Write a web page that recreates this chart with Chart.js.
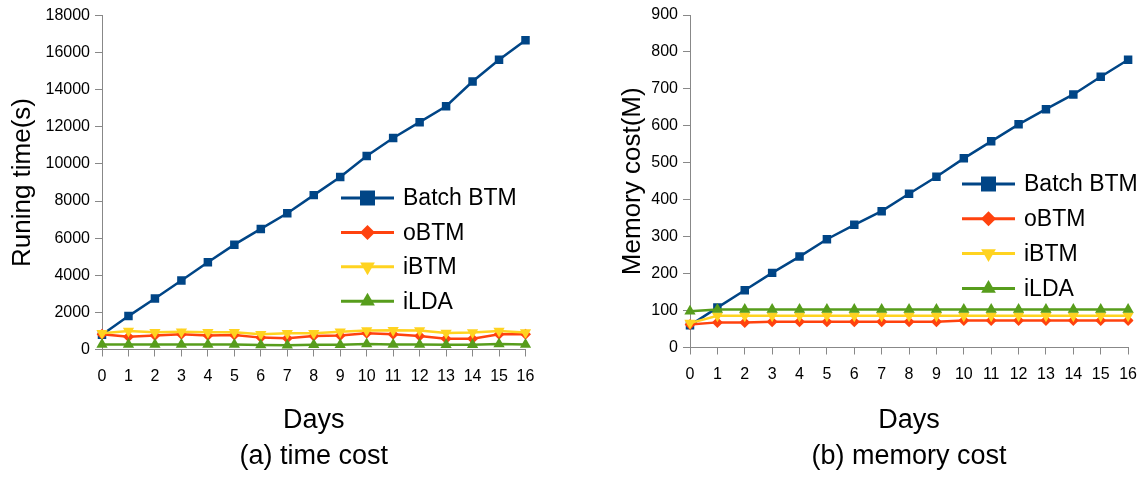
<!DOCTYPE html>
<html>
<head>
<meta charset="utf-8">
<script src="https://cdn.jsdelivr.net/npm/chart.js@4"></script>
<style>
  body { margin: 0; background: #fff; }
  .panel { position: absolute; top: 0; }
</style>
</head>
<body>
<canvas id="timeChart" class="panel" width="573" height="478" style="left:0"></canvas>
<canvas id="memChart" class="panel" width="574" height="478" style="left:573px"></canvas>
<script>
// Data
const days = ['0', '1', '2', '3', '4', '5', '6', '7', '8', '9', '10', '11', '12', '13', '14', '15', '16'];
const seriesNames = ['Batch BTM', 'oBTM', 'iBTM', 'iLDA'];

const timeBatch = [800, 1800, 2750, 3720, 4700, 5650, 6500, 7340, 8320, 9300, 10430, 11400, 12250, 13110, 14440, 15610, 16670];
const timeOBTM = [820, 690, 750, 820, 750, 780, 640, 600, 730, 760, 870, 820, 730, 580, 580, 820, 820];
const timeIBTM = [870, 1000, 930, 950, 930, 930, 820, 870, 870, 950, 1020, 1040, 1020, 890, 910, 1000, 910];
const timeILDA = [270, 270, 270, 270, 270, 270, 240, 230, 260, 260, 300, 270, 270, 250, 250, 290, 270];

const memBatch = [60, 108, 155, 202, 246, 293, 332, 369, 416, 462, 512, 558, 604, 645, 685, 733, 779];
const memOBTM = [62, 68, 68, 70, 70, 70, 70, 70, 70, 70, 73, 73, 73, 73, 73, 73, 73];
const memIBTM = [66, 86, 86, 86, 86, 86, 86, 86, 86, 86, 86, 86, 86, 86, 86, 86, 86];
const memILDA = [98, 103, 103, 103, 103, 103, 103, 103, 103, 103, 103, 103, 103, 103, 103, 103, 103];

// Styling
const FONT = 'Liberation Sans, Arial, sans-serif';
const NARROW = 'Liberation Sans Narrow, Arial Narrow, Liberation Sans, sans-serif';
const AXIS_COLOR = '#888';
const STYLES = [
    { color: '#004586', point: 'rect', radius: 6, legendRadius: 10.6, rotation: 0, order: 4 },
    { color: '#ff420e', point: 'rectRot', radius: 5.5, legendRadius: 7.5, rotation: 0, order: 3 },
    { color: '#ffd320', point: 'triangle', radius: 6.5, legendRadius: 8.5, rotation: 180, order: 2 },
    { color: '#579d1c', point: 'triangle', radius: 6.5, legendRadius: 8.5, rotation: 0, order: 1 }
];

function makeDatasets(seriesData) {
    return seriesData.map((data, i) => ({
        label: seriesNames[i],
        data: data,
        borderColor: STYLES[i].color,
        backgroundColor: STYLES[i].color,
        borderWidth: 2.5,
        pointStyle: STYLES[i].point,
        pointRadius: STYLES[i].radius,
        pointRotation: STYLES[i].rotation,
        pointBorderWidth: 0,
        pointBackgroundColor: STYLES[i].color,
        order: STYLES[i].order,
        tension: 0
    }));
}

// Legend drawn inside the plot, like the original figure
const customLegend = {
    id: 'customLegend',
    afterDraw(chart, args, opts) {
        const ctx = chart.ctx;
        ctx.save();
        chart.data.datasets.forEach((ds, i) => {
            const y = opts.y + i * opts.gap;
            const st = STYLES[i];
            ctx.strokeStyle = st.color;
            ctx.lineWidth = 3;
            ctx.beginPath();
            ctx.moveTo(opts.x, y);
            ctx.lineTo(opts.x + 53, y);
            ctx.stroke();
            ctx.fillStyle = st.color;
            Chart.helpers.drawPoint(ctx, { pointStyle: st.point, radius: st.legendRadius, rotation: st.rotation, borderWidth: 0 }, opts.x + 26.5, y);
            ctx.fillStyle = '#000';
            ctx.font = '23px ' + FONT;
            ctx.textBaseline = 'middle';
            ctx.textAlign = 'left';
            ctx.fillText(ds.label, opts.x + 62, y + 1);
        });
        ctx.restore();
    }
};

function createChart(id, seriesData, cfg) {
    const ctx = document.getElementById(id).getContext('2d');
    return new Chart(ctx, {
        type: 'line',
        data: { labels: days, datasets: makeDatasets(seriesData) },
        plugins: [customLegend],
        options: {
            responsive: false,
            animation: false,
            layout: { padding: { left: 0, right: cfg.padRight, top: cfg.padTop, bottom: 0 } },
            plugins: {
                legend: { display: false },
                tooltip: { enabled: false },
                customLegend: cfg.legend
            },
            scales: {
                x: {
                    type: 'category',
                    offset: false,
                    grid: { drawOnChartArea: false, drawTicks: true, tickLength: 7, color: AXIS_COLOR },
                    border: { color: AXIS_COLOR, width: 1 },
                    ticks: { color: '#000', font: { family: NARROW, size: 16 }, padding: 10, maxRotation: 0, autoSkip: false },
                    title: {
                        display: true,
                        text: ['Days', cfg.caption],
                        color: '#000',
                        font: { family: FONT, size: 27, lineHeight: '36px' },
                        padding: { top: 0, bottom: 3 }
                    },
                    afterFit(scale) { scale.height = 478 - cfg.bottom; }
                },
                y: {
                    min: 0,
                    max: cfg.yMax,
                    grid: { drawOnChartArea: false, drawTicks: true, tickLength: 7, color: AXIS_COLOR },
                    border: { color: AXIS_COLOR, width: 1 },
                    ticks: {
                        stepSize: cfg.yStep,
                        color: '#000',
                        font: { family: FONT, size: 16 },
                        padding: 5,
                        callback: v => String(v)
                    },
                    title: {
                        display: true,
                        text: cfg.yTitle,
                        color: '#000',
                        font: { family: FONT, size: 26 },
                        padding: { top: cfg.yTitlePad, bottom: 0 }
                    },
                    afterFit(scale) { scale.width = cfg.yWidth; }
                }
            }
        }
    });
}

createChart('timeChart', [timeBatch, timeOBTM, timeIBTM, timeILDA], {
    yMax: 18000, yStep: 2000, yTitle: 'Runing time(s)', caption: '(a) time cost',
    yWidth: 102, yTitlePad: 7, padRight: 47.5, padTop: 15.5, bottom: 349.5,
    legend: { x: 341, y: 198, gap: 34.4 }
});

createChart('memChart', [memBatch, memOBTM, memIBTM, memILDA], {
    yMax: 900, yStep: 100, yTitle: 'Memory cost(M)', caption: '(b) memory cost',
    yWidth: 117, yTitlePad: 44, padRight: 18, padTop: 15, bottom: 347.5,
    legend: { x: 389, y: 184, gap: 34.8 }
});
</script>
</body>
</html>
